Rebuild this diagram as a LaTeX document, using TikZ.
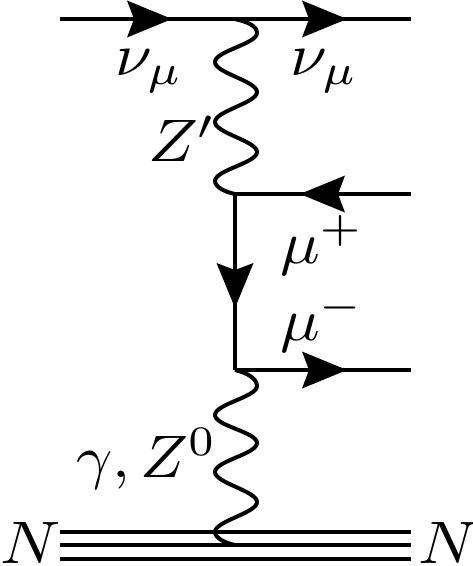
\documentclass[tikz,border=0pt]{standalone}
\usetikzlibrary{decorations.markings}
\tikzset{
  fermion/.style={line width=4pt,postaction={decorate,decoration={markings,
    mark=at position #1 with {\fill (0,0) -- (-45,18.5) -- (-38,0) -- (-45,-18.5) -- cycle;}}}},
  plainline/.style={line width=4pt},
  boson/.style={line width=4pt,line join=round},
  lbl/.style={anchor=base west,inner sep=0pt,outer sep=0pt,xscale=6.6,yscale=6}
}
\begin{document}
\begin{tikzpicture}[x=1pt,y=-1pt]
\useasboundingbox (0,0) rectangle (473,566);
\coordinate (A) at (60,19);
\coordinate (V1) at (235,19);
\coordinate (B) at (411,19);
\coordinate (C) at (411,194);
\coordinate (V2) at (235,194);
\coordinate (V3) at (235,370);
\coordinate (D) at (411,370);
\coordinate (L1) at (60,532);
\coordinate (R1) at (411,532);
\coordinate (L2) at (60,545);
\coordinate (W) at (235,545);
\coordinate (R2) at (411,545);
\coordinate (L3) at (60,559);
\coordinate (R3) at (411,559);
\draw[fermion=112pt] (A) -- (V1);
\draw[fermion=112pt] (V1) -- (B);
\draw[fermion=111pt] (C) -- (V2);
\draw[fermion=114pt] (V2) -- (V3);
\draw[fermion=112pt] (V3) -- (D);
\draw[plainline] (L1) -- (R1);
\draw[plainline] (L2) -- (R2);
\draw[plainline] (L3) -- (R3);
\draw[boson] (V1) .. controls (248,22) and (257,26) .. (257,33)
  .. controls (257,44) and (215,51) .. (215,62)
  .. controls (215,73) and (257,81) .. (257,92)
  .. controls (257,103) and (215,111) .. (215,122)
  .. controls (215,133) and (257,141) .. (257,152)
  .. controls (257,163) and (215,170) .. (215,181)
  .. controls (215,187) and (225,192) .. (V2);
\draw[boson] (V3) .. controls (248,373) and (257,379) .. (257,386)
  .. controls (257,397) and (215,404) .. (215,415)
  .. controls (215,426) and (257,432) .. (257,443)
  .. controls (257,454) and (215,461) .. (215,472)
  .. controls (215,483) and (257,491) .. (257,502)
  .. controls (257,513) and (215,521) .. (215,532)
  .. controls (215,538) and (225,543) .. (W);
\node[lbl] (nu1) at (115,75) {$\nu_\mu$};
\node[lbl] (nu2) at (290,75) {$\nu_\mu$};
\node[lbl] (zp) at (148,161) {$Z'$};
\node[lbl] (mup) at (280,263) {$\mu^+$};
\node[lbl] (mum) at (280,340) {$\mu^-$};
\node[lbl,xscale=.96] (gz) at (76,477) {$\gamma,Z^0$};
\node[lbl] (n1) at (1,563) {$N$};
\node[lbl] (n2) at (418,563) {$N$};
\end{tikzpicture}
\end{document}
